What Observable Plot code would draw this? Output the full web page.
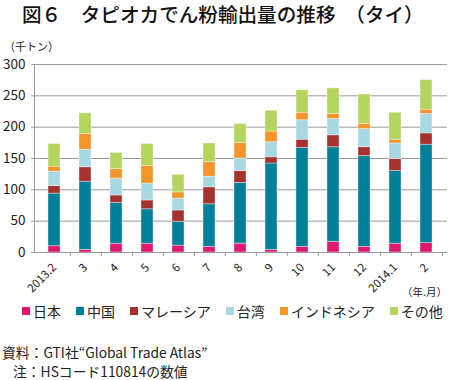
<!DOCTYPE html>
<html><head><meta charset="utf-8">
<script src="https://cdn.jsdelivr.net/npm/d3@7"></script>
<script src="https://cdn.jsdelivr.net/npm/@observablehq/plot@0.6"></script>
<style>
body{margin:0;background:#fff;}
#wrap{position:relative;width:450px;height:380px;overflow:hidden;font-family:"Noto Sans CJK JP","Noto Sans",sans-serif;color:#222;}
#wrap svg{position:absolute;left:0;top:0;background:transparent;}
.abs{position:absolute;white-space:nowrap;}
#title{left:22px;top:3px;font-size:19.6px;line-height:21px;font-weight:500;color:#111;}
#unit{left:4px;top:40px;font-size:11px;line-height:12px;}
#ym{right:3px;top:286px;font-size:10.5px;line-height:12px;}
#legend{left:22px;top:302px;display:flex;font-size:14px;line-height:18px;}
#legend .it{display:flex;align-items:center;margin-right:15px;}
#legend .it:last-child{margin-right:0;}
#legend .sw{width:8px;height:8px;margin-right:3px;}
.foot{font-size:13.8px;line-height:15px;}
</style></head>
<body><div id="wrap"></div>
<script>
const months = ["2013.2","3","4","5","6","7","8","9","10","11","12","2014.1","2"];
const seriesNames = ["日本","中国","マレーシア","台湾","インドネシア","その他"];
const seriesColors = ["#e0186f","#007f99","#a5322f","#a8d9e3","#f3952a","#b4d65e"];
const japan     = [10,4,14,14,11,9,14,4,9,17,9,14,15];
const china     = [84,109,65,55,38,68,97,138,158,151,145,116,157];
const malaysia  = [12,23,12,14,18,27,19,10,13,19,14,19,18];
const taiwan    = [23,28,27,27,19,17,20,24,31,26,29,25,31];
const indonesia = [8,25,15,28,10,23,25,17,12,8,8,6,7];
const others    = [36,33,26,35,28,30,30,33,36,41,47,43,47];
const yTicks = [0,50,100,150,200,250,300];

const seriesValues = [japan, china, malaysia, taiwan, indonesia, others];
const data = seriesNames.flatMap((s,i)=>months.map((m,j)=>({month:m, series:s, value:seriesValues[i][j]})));

const W=450, H=300, mL=34, mR=3;
const step=(W-mL-mR)/months.length;

const chart = Plot.plot({
  width:W, height:H, marginTop:64, marginBottom:48, marginLeft:mL, marginRight:mR,
  style:{fontFamily:'"Noto Sans CJK JP","Noto Sans",sans-serif', fontSize:"13.5px", color:"#222", background:"transparent"},
  x:{domain:months, paddingInner:0.61, paddingOuter:0.305, label:null},
  y:{domain:[0,300], label:null},
  color:{domain:seriesNames, range:seriesColors},
  marks:[
    Plot.gridY(yTicks,{stroke:"#9a9a9a", strokeOpacity:1, strokeWidth:1}),
    Plot.barY(data,{x:"month", y:"value", fill:"series", stroke:"#ffffff", strokeOpacity:0.45, strokeWidth:0.8}),
    Plot.ruleY([0],{stroke:"#9a9a9a"}),
    Plot.frame({anchor:"left", stroke:"#9a9a9a"}),
    Plot.axisY(yTicks,{tickSize:3, tickPadding:6, stroke:"#9a9a9a", fill:"#222", label:null, fontSize:13.5}),
    Plot.axisX({tickSize:4, tickFormat:()=>"", dx:step/2, stroke:"#9a9a9a", label:null}),
    Plot.axisX({tickSize:0, tickPadding:13, tickRotate:-45, fontSize:11.5, fill:"#222", label:null})
  ]
});

const wrap=document.getElementById("wrap");
wrap.appendChild(chart);
const add=(id,cls,text,style)=>{const d=document.createElement("div");if(id)d.id=id;d.className="abs "+(cls||"");d.textContent=text;if(style)d.setAttribute("style",style);wrap.appendChild(d);return d;};
add("title","","図６　タピオカでん粉輸出量の推移　（タイ）");
add("unit","","（千トン）");
add("ym","","（年.月）");
const leg=add("legend","","");
seriesNames.forEach((s,i)=>{const it=document.createElement("div");it.className="it";const sw=document.createElement("span");sw.className="sw";sw.style.background=seriesColors[i];const t=document.createElement("span");t.textContent=s;it.appendChild(sw);it.appendChild(t);leg.appendChild(it);});
add(null,"foot","資料：GTI社“Global Trade Atlas”","left:2px;top:345px;");
add(null,"foot","注：HSコード110814の数値","left:13px;top:364px;");
</script></body></html>
